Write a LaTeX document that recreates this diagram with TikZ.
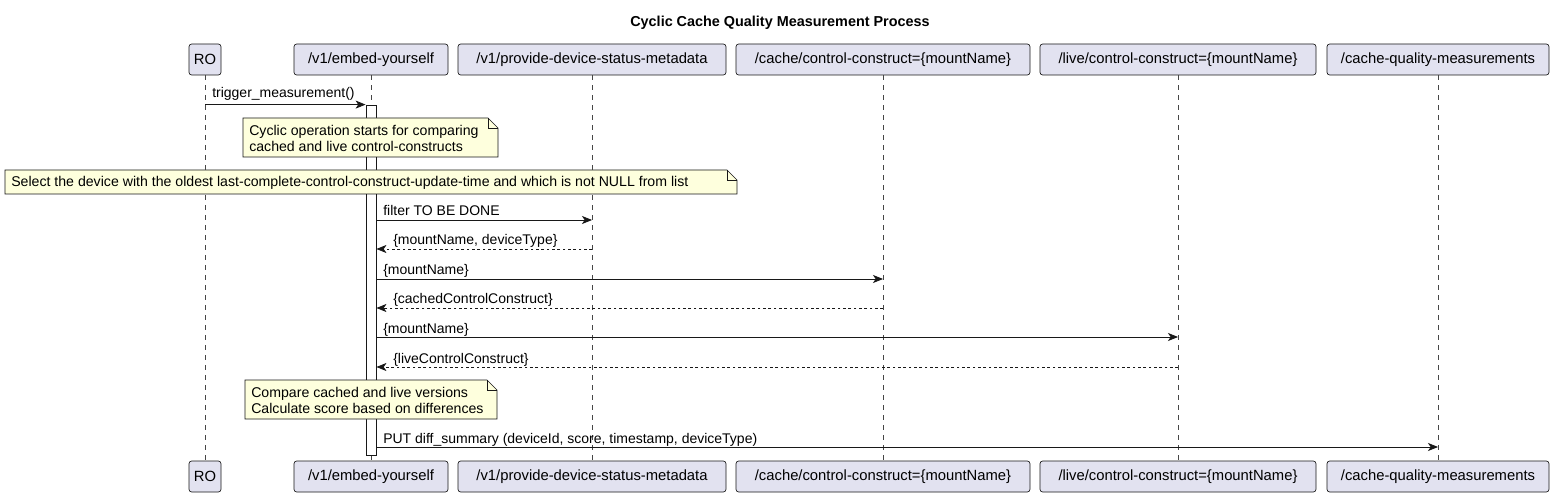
\documentclass[tikz,border=0pt]{standalone}
\usepackage{fontspec}
\setmainfont{Liberation Sans}
\usetikzlibrary{arrows.meta,calc}
\definecolor{partfill}{HTML}{E2E2F0}
\definecolor{lineclr}{HTML}{181818}
\definecolor{notefill}{HTML}{FEFFDD}
\begin{document}
\begin{tikzpicture}[x=0.75pt,y=-0.75pt,
  part/.style={draw=lineclr,fill=partfill,rounded corners=2pt,line width=0.5pt,
    minimum height=23.25pt,inner sep=0pt,font=\fontsize{11.1}{13}\selectfont},
  pw/.style={minimum width=#1*0.75pt},
  lifeline/.style={draw=lineclr!80,line width=0.4pt,dash pattern=on 3.75pt off 3.75pt},
  actbar/.style={draw=lineclr,fill=white,line width=0.6pt,minimum width=7.5pt,inner sep=0pt},
  msg/.style={draw=lineclr,line width=0.6pt,-{Stealth[length=7.5pt,width=6pt,inset=2pt]}},
  ret/.style={msg,dash pattern=on 2pt off 2pt},
  mlabel/.style={font=\fontsize{10.5}{12}\selectfont,inner sep=0pt,anchor=base west},
  notebg/.style={draw=lineclr,fill=notefill,line width=0.5pt},
  notetext/.style={font=\fontsize{10.6}{12}\selectfont,inner sep=0pt,align=left,anchor=west},
]
\useasboundingbox (0,0) rectangle (1554,499);
\fill[white] (0,0) rectangle (1554,499);

\node[font=\bfseries\fontsize{10.8}{12}\selectfont] (title) at (780,23) {Cyclic Cache Quality Measurement Process};

% participants
\node[part,pw=32]  (roT)    at (205,59.5)  {RO};
\node[part,pw=154] (embT)   at (371,59.5)  {/v1/embed-yourself};
\node[part,pw=268] (provT)  at (592,59.5)  {/v1/provide-device-status-metadata};
\node[part,pw=294] (cacheT) at (883,59.5)  {/cache/control-construct=\{mountName\}};
\node[part,pw=276] (liveT)  at (1178,59.5) {/live/control-construct=\{mountName\}};
\node[part,pw=222] (cqmT)   at (1438,59.5) {/cache-quality-measurements};

\node[part,pw=32]  (roB)    at (205,476.5)  {RO};
\node[part,pw=154] (embB)   at (371,476.5)  {/v1/embed-yourself};
\node[part,pw=268] (provB)  at (592,476.5)  {/v1/provide-device-status-metadata};
\node[part,pw=294] (cacheB) at (883,476.5)  {/cache/control-construct=\{mountName\}};
\node[part,pw=276] (liveB)  at (1178,476.5) {/live/control-construct=\{mountName\}};
\node[part,pw=222] (cqmB)   at (1438,476.5) {/cache-quality-measurements};

% lifelines
\draw[lifeline] (roT.south) -- (roB.north);
\draw[lifeline] (embT.south) -- (embB.north);
\draw[lifeline] (provT.south) -- (provB.north);
\draw[lifeline] (cacheT.south) -- (cacheB.north);
\draw[lifeline] (liveT.south) -- (liveB.north);
\draw[lifeline] (cqmT.south) -- (cqmB.north);

% activation
\node[actbar,minimum height=262.5pt] (act) at (371,280) {};

% notes
\draw[notebg] (243,118) -- (488,118) -- (498,128) -- (498,157) -- (243,157) -- cycle;
\draw[lineclr,line width=0.5pt] (488,118) -- (488,128) -- (498,128);
\node[notetext] (note1) at (249,138) {Cyclic operation starts for comparing\\cached and live control-constructs};

\draw[notebg] (5,170) -- (727,170) -- (737,180) -- (737,194) -- (5,194) -- cycle;
\draw[lineclr,line width=0.5pt] (727,170) -- (727,180) -- (737,180);
\node[notetext] (note2) at (11,182.5) {Select the device with the oldest last-complete-control-construct-update-time and which is not NULL from list};

\draw[notebg] (245,380) -- (487,380) -- (497,390) -- (497,419) -- (245,419) -- cycle;
\draw[lineclr,line width=0.5pt] (487,380) -- (487,390) -- (497,390);
\node[notetext] (note3) at (251,400) {Compare cached and live versions\\Calculate score based on differences};

% messages
\draw[msg] (roT.south |- act.north) -- (act.north west);
\node[mlabel] (l1) at (212,98) {trigger\_measurement()};

\draw[msg] (act.east |- 0,220) -- (provT.south |- 0,220);
\node[mlabel] (l2) at (383,216) {filter TO BE DONE};

\draw[ret] (provT.south |- 0,249) -- (act.east |- 0,249);
\node[mlabel] (l3) at (393,245) {\{mountName, deviceType\}};

\draw[msg] (act.east |- 0,279) -- (cacheT.south |- 0,279);
\node[mlabel] (l4) at (383,275) {\{mountName\}};

\draw[ret] (cacheT.south |- 0,308) -- (act.east |- 0,308);
\node[mlabel] (l5) at (393,304) {\{cachedControlConstruct\}};

\draw[msg] (act.east |- 0,337) -- (liveT.south |- 0,337);
\node[mlabel] (l6) at (383,333) {\{mountName\}};

\draw[ret] (liveT.south |- 0,367) -- (act.east |- 0,367);
\node[mlabel] (l7) at (393,363) {\{liveControlConstruct\}};

\draw[msg] (act.east |- 0,447) -- (cqmT.south |- 0,447);
\node[mlabel] (l8) at (383,443) {PUT diff\_summary (deviceId, score, timestamp, deviceType)};
\end{tikzpicture}
\end{document}
